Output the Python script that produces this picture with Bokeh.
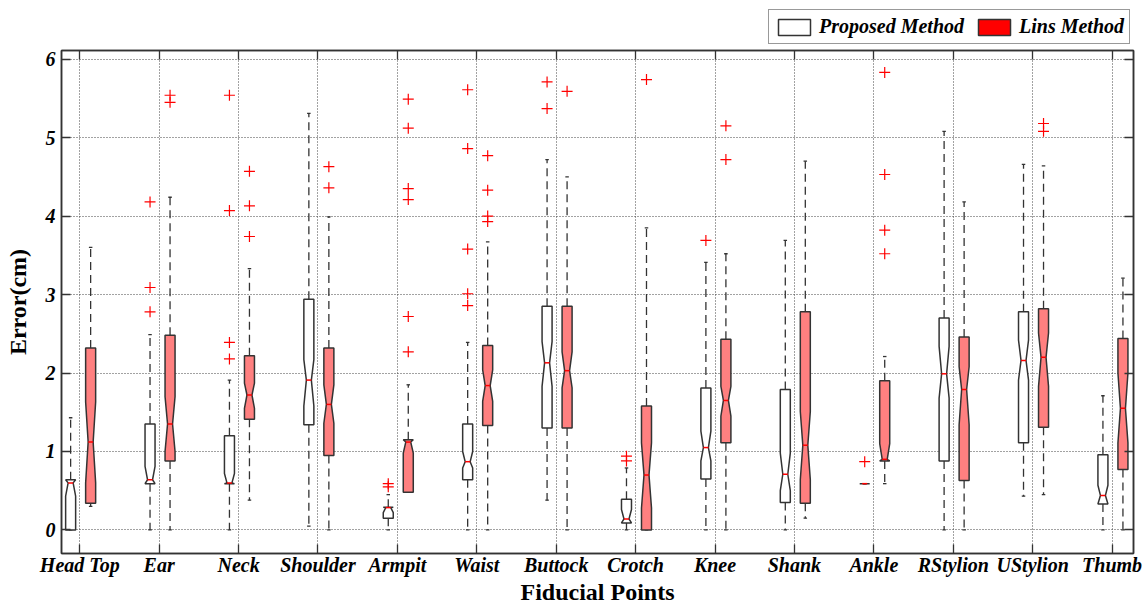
from bokeh.plotting import figure
from bokeh.layouts import column
from bokeh.models import (ColumnDataSource, Range1d, FixedTicker, LinearAxis, Legend, LegendItem,
                          CustomJSTickFormatter)
from bokeh.embed import file_html
from bokeh.resources import INLINE

categories = ["Head Top", "Ear", "Neck", "Shoulder", "Armpit", "Waist", "Buttock",
              "Crotch", "Knee", "Shank", "Ankle", "RStylion", "UStylion", "Thumb"]
y_ticks = [0, 1, 2, 3, 4, 5, 6]
series_names = ["Proposed Method", "Lins Method"]

# Proposed Method: quartiles, medians, notch limits, whisker ends
p_q1 = [0.00, 0.59, 0.59, 1.34, 0.15, 0.64, 1.30, 0.09, 0.65, 0.35, 0.59, 0.88, 1.11, 0.33]
p_med = [0.60, 0.64, 0.60, 1.91, 0.285, 0.87, 2.13, 0.14, 1.05, 0.71, 0.59, 1.99, 2.16, 0.44]
p_q3 = [0.64, 1.35, 1.20, 2.94, 0.29, 1.35, 2.85, 0.39, 1.81, 1.79, 0.59, 2.70, 2.78, 0.96]
p_nlo = [0.43, 0.50, 0.50, 1.58, 0.22, 0.79, 1.83, 0.05, 0.88, 0.50, 0.59, 1.68, 1.91, 0.30]
p_nhi = [0.77, 0.81, 0.72, 2.17, 0.35, 1.00, 2.40, 0.26, 1.26, 0.98, 0.59, 2.34, 2.42, 0.57]
p_wlo = [0.00, 0.00, 0.00, 0.05, 0.00, 0.00, 0.38, 0.00, 0.00, 0.00, 0.59, 0.00, 0.43, 0.00]
p_whi = [1.43, 2.49, 1.91, 5.31, 0.45, 2.39, 4.72, 0.79, 3.41, 3.69, 0.59, 5.08, 4.66, 1.71]
p_out = [[], [2.78, 3.09, 4.18], [2.18, 2.39, 4.07, 5.54], [], [0.55, 0.59],
         [2.86, 3.01, 3.58, 4.86, 5.61], [5.37, 5.71], [0.88, 0.94], [3.69], [], [0.87],
         [], [], []]

# Lins Method
l_q1 = [0.34, 0.88, 1.41, 0.95, 0.48, 1.33, 1.30, 0.00, 1.11, 0.34, 0.88, 0.63, 1.31, 0.77]
l_med = [1.12, 1.35, 1.72, 1.60, 1.12, 1.84, 2.03, 0.70, 1.65, 1.08, 0.90, 1.79, 2.20, 1.55]
l_q3 = [2.32, 2.48, 2.22, 2.32, 1.15, 2.35, 2.85, 1.58, 2.43, 2.78, 1.90, 2.46, 2.82, 2.44]
l_nlo = [0.60, 1.00, 1.55, 1.36, 0.98, 1.64, 1.81, 0.28, 1.45, 0.64, 0.70, 1.34, 1.83, 1.11]
l_nhi = [1.63, 1.70, 1.87, 1.85, 1.30, 2.04, 2.27, 1.11, 1.83, 1.51, 1.10, 2.08, 2.51, 2.00]
l_wlo = [0.30, 0.00, 0.38, 0.00, 0.48, 0.00, 0.00, 0.00, 0.00, 0.15, 0.59, 0.00, 0.45, 0.00]
l_whi = [3.60, 4.24, 3.33, 3.99, 1.85, 3.67, 4.50, 3.85, 3.52, 4.70, 2.21, 4.18, 4.64, 3.21]
l_out = [[], [5.45, 5.54], [3.74, 4.13, 4.57], [4.36, 4.63], [2.27, 2.72, 4.21, 4.35, 5.12, 5.49],
         [3.93, 4.00, 4.33, 4.77], [5.59], [5.74], [4.72, 5.15], [], [3.52, 3.82, 4.53, 5.83],
         [], [5.08, 5.18], []]

positions = list(range(1, len(categories) + 1))
DARK = "#333333"
SERIF = "Liberation Serif"
nan = float("nan")

# ---- legend strip (top) ----
leg = figure(width=1145, height=44, x_range=Range1d(0, 1), y_range=Range1d(0, 1),
             output_backend="svg", toolbar_location=None,
             min_border_left=0, min_border_right=0, min_border_top=0, min_border_bottom=0)
leg.axis.visible = False
leg.grid.visible = False
leg.outline_line_color = None
r_prop = leg.quad(left=[nan], right=[nan], top=[nan], bottom=[nan], fill_color="white",
                  line_color=DARK, line_width=1.5)
r_lins = leg.quad(left=[nan], right=[nan], top=[nan], bottom=[nan], fill_color="#ff0000",
                  line_color=DARK, line_width=1.5)
legend = Legend(items=[LegendItem(label=series_names[0], renderers=[r_prop]),
                       LegendItem(label=series_names[1], renderers=[r_lins])],
                orientation="horizontal", location=(707, 0))
legend.label_text_font = SERIF
legend.label_text_font_style = "bold italic"
legend.label_text_font_size = "20px"
legend.label_text_color = "black"
legend.glyph_width = 40
legend.glyph_height = 20
legend.label_standoff = 5
legend.spacing = 10
legend.padding = 5
legend.margin = 0
legend.border_line_color = DARK
legend.border_line_width = 1.5
legend.background_fill_color = "white"
legend.background_fill_alpha = 1
leg.add_layout(legend, "center")

# ---- main plot ----
p = figure(width=1145, height=563, x_range=Range1d(0.77, 14.27), y_range=Range1d(-0.3, 6.11),
           output_backend="svg", toolbar_location=None,
           min_border_left=61, min_border_right=12, min_border_top=6, min_border_bottom=53)
p.outline_line_color = DARK
p.outline_line_width = 1.5
p.background_fill_color = "white"
p.border_fill_color = "white"


def add_boxes(offset, q1, med, q3, nlo, nhi, wlo, whi, outs, fill):
    hw = 0.063
    nw = hw / 2
    cw = 0.022
    xs, ys = [], []
    cx = []
    for i, pos in enumerate(positions):
        c = pos + offset
        cx.append(c)
        a, m, b = q1[i], med[i], q3[i]
        lo = max(nlo[i], a)
        hi = min(nhi[i], b)
        xs.append([c - hw, c - hw, c - nw, c - hw, c - hw, c + hw, c + hw, c + nw, c + hw, c + hw])
        ys.append([a, lo, m, hi, b, b, hi, m, lo, a])
    wsrc = ColumnDataSource(dict(x=cx + cx, y0=list(q3) + list(q1), y1=list(whi) + list(wlo)))
    p.segment(x0="x", y0="y0", x1="x", y1="y1", source=wsrc, line_color=DARK,
              line_width=1.3, line_dash="8 5")
    csrc = ColumnDataSource(dict(xl=[c - cw for c in cx] * 2, xr=[c + cw for c in cx] * 2,
                                 y=list(whi) + list(wlo)))
    p.segment(x0="xl", y0="y", x1="xr", y1="y", source=csrc, line_color=DARK, line_width=1.3)
    p.patches(xs="xs", ys="ys", source=ColumnDataSource(dict(xs=xs, ys=ys)),
              fill_color=fill, line_color=DARK, line_width=1.5)
    msrc = ColumnDataSource(dict(xl=[c - nw for c in cx], xr=[c + nw for c in cx], y=list(med)))
    p.segment(x0="xl", y0="y", x1="xr", y1="y", source=msrc, line_color="red", line_width=1.5)
    ox, oy = [], []
    for i, vals in enumerate(outs):
        for v in vals:
            ox.append(cx[i])
            oy.append(v)
    p.scatter(x="x", y="y", source=ColumnDataSource(dict(x=ox, y=oy)), marker="cross",
              size=11, line_color="red", line_width=1.2)


add_boxes(-0.115, p_q1, p_med, p_q3, p_nlo, p_nhi, p_wlo, p_whi, p_out, "white")
add_boxes(0.137, l_q1, l_med, l_q3, l_nlo, l_nhi, l_wlo, l_whi, l_out, "#ff8080")

for ax in [p.xaxis[0], p.yaxis[0]]:
    ax.axis_line_color = DARK
    ax.axis_line_width = 1.5
    ax.major_tick_line_color = DARK
    ax.major_tick_line_width = 1.3
    ax.major_tick_in = 9
    ax.major_tick_out = 0
    ax.minor_tick_line_color = None
    ax.major_label_text_font = SERIF
    ax.major_label_text_font_style = "bold italic"
    ax.major_label_text_font_size = "20px"
    ax.major_label_text_color = "black"
    ax.axis_label_text_font = SERIF
    ax.axis_label_text_font_style = "bold"
    ax.axis_label_text_font_size = "24px"
    ax.axis_label_text_color = "black"

p.xaxis.ticker = FixedTicker(ticks=positions)
p.xaxis.major_label_overrides = {pos: name for pos, name in zip(positions, categories)}
p.xaxis.major_label_standoff = 0
p.xaxis.axis_label = "Fiducial Points"
p.xaxis.axis_label_standoff = 0
p.yaxis.ticker = FixedTicker(ticks=y_ticks)
p.yaxis.major_label_standoff = 6
p.yaxis.axis_label = "Error(cm)"
p.yaxis.axis_label_standoff = 12

for side, ticks in [("above", positions), ("right", y_ticks)]:
    ax = LinearAxis(ticker=FixedTicker(ticks=ticks),
                    formatter=CustomJSTickFormatter(code="return ''"))
    ax.axis_line_color = DARK
    ax.axis_line_width = 1.5
    ax.major_tick_line_color = DARK
    ax.major_tick_line_width = 1.3
    ax.major_tick_in = 9
    ax.major_tick_out = 0
    ax.minor_tick_line_color = None
    ax.major_label_standoff = 0
    p.add_layout(ax, side)

p.xgrid.ticker = FixedTicker(ticks=positions)
p.ygrid.ticker = FixedTicker(ticks=y_ticks)
for g in [p.xgrid[0], p.ygrid[0]]:
    g.grid_line_color = "#444444"
    g.grid_line_dash = "1 2"
    g.grid_line_width = 1

layout = column(leg, p, spacing=0)
open("out.html", "w").write(file_html(layout, INLINE))
